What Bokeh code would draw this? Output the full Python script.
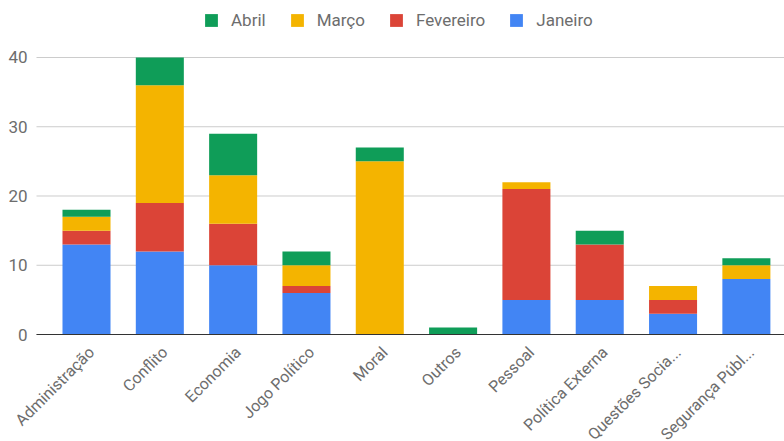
import math
from bokeh.plotting import figure
from bokeh.models import (ColumnDataSource, Range1d, Legend, LegendItem, LabelSet)
from bokeh.core.properties import value
from bokeh.embed import file_html
from bokeh.resources import INLINE

categories = ["Administração", "Conflito", "Economia", "Jogo Político", "Moral",
              "Outros", "Pessoal", "Política Externa", "Questões Socia...", "Segurança Públ..."]
janeiro   = [13, 12, 10, 6, 0, 0, 5, 5, 3, 8]
fevereiro = [2, 7, 6, 1, 0, 0, 16, 8, 2, 0]
marco     = [2, 17, 7, 3, 25, 0, 1, 0, 2, 2]
abril     = [1, 4, 6, 2, 2, 1, 0, 2, 0, 1]
series_names = ["Janeiro", "Fevereiro", "Março", "Abril"]
colors = ["#4285F4", "#DB4437", "#F4B400", "#0F9D58"]
y_ticks = [0, 10, 20, 30, 40]

X0, X1 = -0.182, 10.02          # plotting-area extent in data units
xs = [i + 0.5 for i in range(len(categories))]
source = ColumnDataSource(dict(x=xs, Janeiro=janeiro, Fevereiro=fevereiro,
                               Março=marco, Abril=abril))
xlab_source = ColumnDataSource(dict(x=xs, y=[0] * len(xs), text=categories))
ylab_source = ColumnDataSource(dict(x=[X0] * len(y_ticks), y=y_ticks,
                                    text=[str(t) for t in y_ticks]))
grid_source = ColumnDataSource(dict(x0=[X0] * len(y_ticks), x1=[X1] * len(y_ticks),
                                    y=y_ticks))

p = figure(width=784, height=441, output_backend="svg", toolbar_location=None,
           x_range=Range1d(-0.673, X1), y_range=Range1d(-15.45, 48.23),
           min_border_left=0, min_border_right=0, min_border_top=0,
           min_border_bottom=0)
p.outline_line_color = None
p.background_fill_color = "white"
p.border_fill_color = "white"
p.xaxis.visible = False
p.yaxis.visible = False
p.xgrid.grid_line_color = None
p.ygrid.grid_line_color = None

# gridlines
p.segment(x0="x0", x1="x1", y0="y", y1="y", source=grid_source,
          line_color="#cccccc", line_width=1)

renderers = p.vbar_stack(series_names, x="x", width=0.655, color=colors,
                         line_color=None, source=source)

# baseline
p.segment(x0=[X0], x1=[X1], y0=[0], y1=[0], line_color="#333333", line_width=1.2)

# y tick labels
p.add_layout(LabelSet(x="x", y="y", text="text", source=ylab_source,
                      text_align="right", text_baseline="middle", x_offset=-9,
                      text_font=value("Roboto"), text_font_size="17px",
                      text_color="#6d6d6d"))

# x category labels (rotated)
p.add_layout(LabelSet(x="x", y="y", text="text", source=xlab_source,
                      angle=math.pi / 4, text_align="right", text_baseline="middle",
                      x_offset=5, y_offset=-15, text_font=value("Roboto"),
                      text_font_size="16px", text_color="#6d6d6d"))

# legend (reverse order)
items = [LegendItem(label=n, renderers=[r]) for n, r in zip(series_names, renderers)][::-1]
legend = Legend(items=items, orientation="horizontal", location=(203, 411),
                glyph_width=16, glyph_height=16, label_standoff=12, spacing=23,
                padding=0, margin=0, border_line_color=None,
                background_fill_alpha=0, label_text_font="Roboto",
                label_text_font_size="17px", label_text_color="#6d6d6d",
                label_height=16)
p.add_layout(legend, "center")

open("out.html", "w").write(file_html(p, INLINE))
